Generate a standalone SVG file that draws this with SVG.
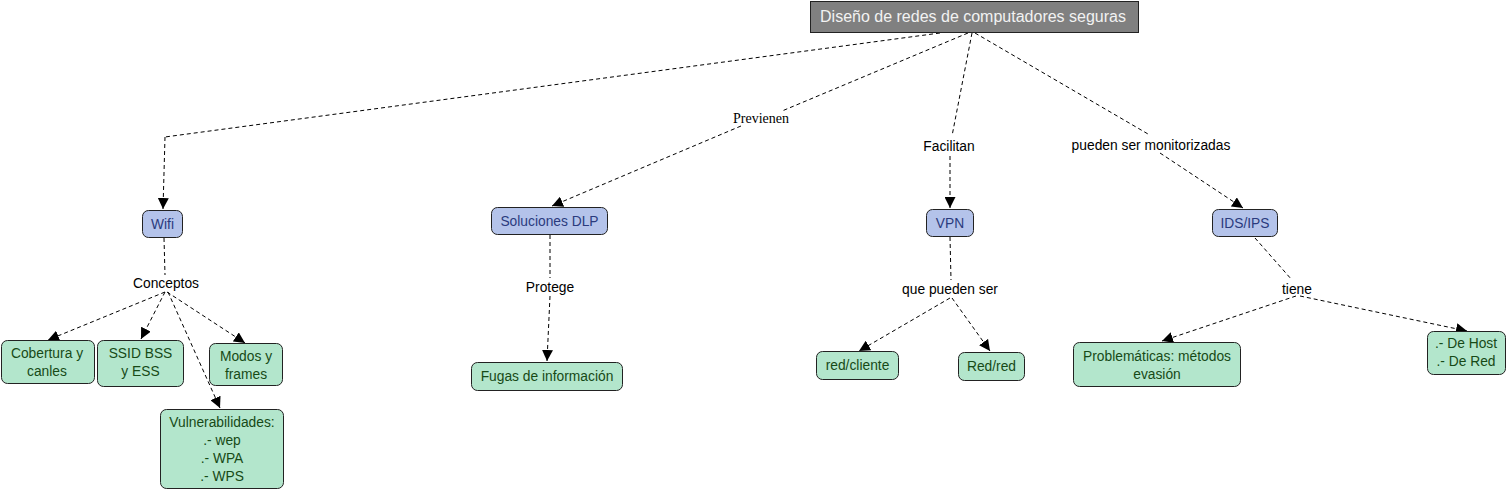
<svg xmlns="http://www.w3.org/2000/svg" width="1508" height="490" viewBox="0 0 1508 490">
<defs>
<marker id="arr" markerUnits="userSpaceOnUse" markerWidth="11" markerHeight="11" refX="10" refY="5" orient="auto" viewBox="0 0 10 10">
<path d="M0,0 L10,5 L0,10 z" fill="#000"/>
</marker>
</defs>
<style>
.c{fill:none;stroke:#000;stroke-width:1;stroke-dasharray:4,3}
.a{marker-end:url(#arr)}
.b rect{fill:#b4c3ea;stroke:#222;stroke-width:1}
.b text{fill:#2b3b7e}
.g rect{fill:#b3e6cc;stroke:#222;stroke-width:1}
.g text{fill:#174a17}
text{font-family:"Liberation Sans",Arial,sans-serif;font-size:13.8px;text-anchor:middle}
.l{fill:#000}
.s{font-family:"Liberation Serif","Times New Roman",serif;font-size:14px}
</style>
<rect width="1508" height="490" fill="#fff"/>
<g id="connectors">
<polyline class="c" points="940,33 165,137"/>
<polyline class="c a" points="165,137 163,209"/>
<line class="c" x1="968" y1="33" x2="782" y2="111"/>
<line class="c a" x1="741" y1="126" x2="552" y2="206"/>
<line class="c" x1="972" y1="33" x2="952" y2="136"/>
<line class="c a" x1="950" y1="156" x2="950" y2="208"/>
<line class="c" x1="975" y1="33" x2="1148" y2="134"/>
<line class="c a" x1="1160" y1="153" x2="1243" y2="208"/>
<line class="c" x1="164" y1="238" x2="165" y2="275"/>
<line class="c a" x1="165" y1="292" x2="48" y2="340"/>
<line class="c a" x1="165" y1="292" x2="141" y2="339"/>
<line class="c a" x1="167" y1="292" x2="245" y2="343"/>
<line class="c a" x1="168" y1="292" x2="220" y2="408"/>
<line class="c" x1="550" y1="235" x2="550" y2="278"/>
<line class="c a" x1="550" y1="296" x2="547" y2="361"/>
<line class="c" x1="950" y1="237" x2="951" y2="280"/>
<line class="c a" x1="950" y1="298" x2="859" y2="351"/>
<line class="c a" x1="952" y1="298" x2="990" y2="351"/>
<line class="c" x1="1255" y1="238" x2="1292" y2="280"/>
<line class="c a" x1="1296" y1="296" x2="1162" y2="341"/>
<line class="c a" x1="1300" y1="296" x2="1467" y2="331"/>
<text class="l s" x="761" y="123">Previenen</text>
<text class="l" x="949" y="151">Facilitan</text>
<text class="l" x="1151" y="150">pueden ser monitorizadas</text>
<text class="l" x="166" y="288">Conceptos</text>
<text class="l" x="550" y="292">Protege</text>
<text class="l" x="950" y="294">que pueden ser</text>
<text class="l" x="1297" y="294">tiene</text>
</g>
<g id="root">
<rect x="810.500" y="1.500" width="328" height="31" fill="#808080" stroke="#222"/>
<text x="973" y="21.500" fill="#f2f2f2" style="font-size:16px">Diseño de redes de computadores seguras</text>
</g>
<g id="wifi" class="b"><rect x="142.500" y="210.500" width="40" height="27" rx="6"/><text x="162.500" y="228.500">Wifi</text></g>
<g id="dlp" class="b"><rect x="491.500" y="207.500" width="116" height="27" rx="6"/><text x="549.500" y="225.500">Soluciones DLP</text></g>
<g id="vpn" class="b"><rect x="926.500" y="209.500" width="47" height="27" rx="6"/><text x="950" y="227.500">VPN</text></g>
<g id="ids" class="b"><rect x="1212.500" y="209.500" width="65" height="27" rx="6"/><text x="1245" y="227.500">IDS/IPS</text></g>
<g id="cobertura" class="g"><rect x="1.500" y="340.500" width="93" height="43" rx="6"/><text x="47" y="358">Cobertura y</text><text x="47" y="376">canles</text></g>
<g id="ssid" class="g"><rect x="97.500" y="340.500" width="86" height="46" rx="6"/><text x="140.500" y="358">SSID BSS</text><text x="140.500" y="376">y ESS</text></g>
<g id="modos" class="g"><rect x="209.500" y="343.500" width="73" height="42" rx="6"/><text x="246" y="361">Modos y</text><text x="246" y="379">frames</text></g>
<g id="vuln" class="g"><rect x="160.500" y="409.500" width="123" height="79" rx="6"/><text x="222" y="427">Vulnerabilidades:</text><text x="222" y="445">.- wep</text><text x="222" y="463">.- WPA</text><text x="222" y="481">.- WPS</text></g>
<g id="fugas" class="g"><rect x="471.500" y="362.500" width="151" height="28" rx="6"/><text x="547" y="381">Fugas de información</text></g>
<g id="redcliente" class="g"><rect x="816.500" y="351.500" width="82" height="28" rx="6"/><text x="857.500" y="370">red/cliente</text></g>
<g id="redred" class="g"><rect x="958.500" y="352.500" width="66" height="28" rx="6"/><text x="991.500" y="371">Red/red</text></g>
<g id="problematicas" class="g"><rect x="1073.500" y="342.500" width="167" height="44" rx="6"/><text x="1157" y="361">Problemáticas: métodos</text><text x="1157" y="379">evasión</text></g>
<g id="hostred" class="g"><rect x="1427.500" y="331.500" width="78" height="43" rx="6"/><text x="1466" y="348">.- De Host</text><text x="1466" y="366">.- De Red</text></g>
</svg>
